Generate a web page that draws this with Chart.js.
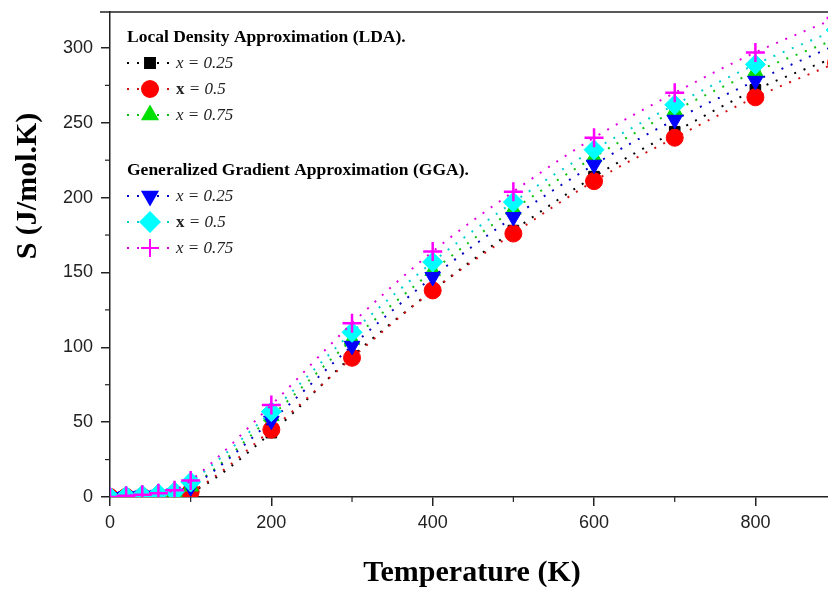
<!DOCTYPE html>
<html>
<head>
<meta charset="utf-8">
<script src="https://cdn.jsdelivr.net/npm/chart.js@4.4.0/dist/chart.umd.min.js"></script>
<style>
  html, body { margin: 0; padding: 0; background: #fff; }
  #wrap { width: 828px; height: 592px; position: relative; }
</style>
</head>
<body>
<div id="wrap"><canvas id="myChart" width="828" height="592"></canvas></div>
<script>
// temperatures (K)
const temps = [0, 20, 40, 60, 80, 100, 200, 300, 400, 500, 600, 700, 800, 900];

// entropy S (J/mol.K)
const ldaX025 = [0, 0.1, 0.3, 0.6, 1.0, 3.0, 43, 94, 138, 178, 214, 244, 272, 294];
const ldaX05  = [0, 0.1, 0.3, 0.6, 1.0, 3.5, 45, 93, 138, 176, 211, 240, 267, 290];
const ldaX075 = [0, 0.7, 1.3, 2.2, 3.5, 7.0, 54, 105, 151, 192, 227, 258, 284, 306];
const ggaX025 = [0, 0.5, 1.0, 1.5, 2.5, 6.5, 51, 101, 147, 187, 222, 252, 278, 302];
const ggaX05  = [0, 0.7, 1.3, 2.2, 3.5, 10, 57, 110, 157, 197, 232, 262, 289, 312];
const ggaX075 = [0, 0.8, 1.5, 2.5, 4.5, 11, 61.5, 116, 164, 204, 240, 270, 297, 320];

const xTicks = [0, 200, 400, 600, 800];
const xMinor = [100, 300, 500, 700];
const yTicks = [0, 50, 100, 150, 200, 250, 300];
const yMinor = [25, 75, 125, 175, 225, 275];

const seriesNames = ["x = 0.25", "x = 0.5", "x = 0.75", "x = 0.25", "x = 0.5", "x = 0.75"];
const seriesColors = ["#000000", "#ff0000", "#00e000", "#0000ff", "#00ffff", "#ff00ff"];
const lineColors = ["#000000", "#d01010", "#10c010", "#0000c0", "#00d0d0", "#e000e0"];
const seriesStyles = ["rect", "circle", "triangle", "triangle", "rectRot", "cross"];
const seriesRot = [0, 0, 0, 180, 0, 0];
const seriesRadius = [7.5, 8.5, 9, 9, 10, 9.5];
const seriesData = [ldaX025, ldaX05, ldaX075, ggaX025, ggaX05, ggaX075];

let chart;

function toPoints(values) {
    return values.map(function (v, i) { return { x: temps[i], y: v }; });
}

const serif = "'Liberation Serif', 'Times New Roman', serif";

const extras = {
    id: "extras",
    afterDraw: function (c) {
        const ctx = c.ctx;
        const xs = c.scales.x, ys = c.scales.y;
        const area = c.chartArea;
        ctx.save();
        // top frame line
        ctx.strokeStyle = "#222";
        ctx.lineWidth = 1.5;
        ctx.beginPath();
        ctx.moveTo(area.left - 10, area.top);
        ctx.lineTo(area.right, area.top);
        ctx.stroke();
        // minor ticks
        ctx.lineWidth = 1.2;
        xMinor.forEach(function (v) {
            const px = xs.getPixelForValue(v);
            ctx.beginPath();
            ctx.moveTo(px, area.bottom);
            ctx.lineTo(px, area.bottom + 5);
            ctx.stroke();
        });
        yMinor.forEach(function (v) {
            const py = ys.getPixelForValue(v);
            ctx.beginPath();
            ctx.moveTo(area.left, py);
            ctx.lineTo(area.left - 5, py);
            ctx.stroke();
        });

        // axis titles
        ctx.fillStyle = "#000";
        ctx.font = "bold 30px " + serif;
        ctx.textAlign = "center";
        ctx.textBaseline = "middle";
        ctx.fillText("Temperature (K)", (area.left + area.right) / 2 + 3, 573);
        ctx.save();
        ctx.translate(28, 186);
        ctx.rotate(-Math.PI / 2);
        ctx.fillText("S (J/mol.K)", 0, 0);
        ctx.restore();

        // legend
        const headers = [["Local Density Approximation (LDA).", 37], ["Generalized Gradient Approximation (GGA).", 170]];
        const rows = [63, 89, 115, 196, 222, 248];
        ctx.textAlign = "left";
        ctx.font = "bold 17.5px " + serif;
        headers.forEach(function (h) { ctx.fillText(h[0], 127, h[1]); });
        rows.forEach(function (y, i) {
            ctx.strokeStyle = lineColors[i];
            ctx.lineWidth = 2;
            ctx.setLineDash([2, 8]);
            ctx.beginPath();
            ctx.moveTo(127, y);
            ctx.lineTo(176, y);
            ctx.stroke();
            ctx.setLineDash([]);
            ctx.fillStyle = seriesColors[i];
            ctx.strokeStyle = seriesColors[i];
            ctx.lineWidth = 2;
            Chart.helpers.drawPoint(ctx, {
                pointStyle: seriesStyles[i],
                radius: seriesRadius[i] - 0.5,
                rotation: seriesRot[i],
                borderWidth: 2
            }, 150, y);
            ctx.fillStyle = "#222";
            const name = seriesNames[i];
            let tx = 176;
            if (name === "x = 0.5") {
                ctx.font = "bold 17px " + serif;
                ctx.fillText("x", tx, y + 1);
                tx += ctx.measureText("x").width;
                ctx.font = "italic 17px " + serif;
                ctx.fillText(" = 0.5", tx, y + 1);
            } else {
                ctx.font = "italic 17px " + serif;
                ctx.fillText(name, tx, y + 1);
            }
        });
        ctx.restore();
    }
};

function initChart() {
    const ctx = document.getElementById("myChart").getContext("2d");
    const datasets = seriesData.map(function (vals, i) {
        return {
            label: seriesNames[i],
            data: toPoints(vals),
            borderColor: lineColors[i],
            backgroundColor: seriesColors[i],
            pointBackgroundColor: seriesColors[i],
            pointBorderColor: seriesColors[i],
            pointStyle: seriesStyles[i],
            pointRotation: seriesRot[i],
            pointRadius: seriesRadius[i],
            pointBorderWidth: seriesStyles[i] === "cross" ? 2.5 : 1,
            borderWidth: 2,
            borderDash: [2, 8],
            cubicInterpolationMode: "monotone",
            clip: 0,
            order: 6 - i
        };
    });

    chart = new Chart(ctx, {
        type: "line",
        data: { datasets: datasets },
        options: {
            responsive: false,
            animation: false,
            events: [],
            layout: { autoPadding: false, padding: { top: 12, right: 0, left: 0, bottom: 0 } },
            plugins: {
                legend: { display: false },
                tooltip: { enabled: false }
            },
            scales: {
                x: {
                    type: "linear",
                    min: 0,
                    max: 890,
                    afterFit: function (s) {
                        s.height = 95;
                        s.paddingLeft = 0;
                        s.paddingRight = 0;
                    },
                    afterBuildTicks: function (s) { s.ticks = xTicks.map(function (v) { return { value: v }; }); },
                    border: { display: true, color: "#222", width: 1.5 },
                    grid: { drawOnChartArea: false, drawTicks: true, tickLength: 9, color: "#222", lineWidth: 1.5 },
                    ticks: {
                        color: "#222",
                        padding: 6,
                        maxRotation: 0,
                        font: { family: "'Liberation Sans', Arial, sans-serif", size: 18 }
                    }
                },
                y: {
                    type: "linear",
                    min: 0,
                    max: 324,
                    afterFit: function (s) {
                        s.width = 110;
                        s.paddingTop = 0;
                        s.paddingBottom = 0;
                    },
                    afterBuildTicks: function (s) { s.ticks = yTicks.map(function (v) { return { value: v }; }); },
                    border: { display: true, color: "#222", width: 1.5 },
                    grid: { drawOnChartArea: false, drawTicks: true, tickLength: 9, color: "#222", lineWidth: 1.5 },
                    ticks: {
                        color: "#222",
                        padding: 8,
                        font: { family: "'Liberation Sans', Arial, sans-serif", size: 18 }
                    }
                }
            }
        },
        plugins: [extras]
    });
}

document.addEventListener("DOMContentLoaded", function () {
    initChart();
});
</script>
</body>
</html>
